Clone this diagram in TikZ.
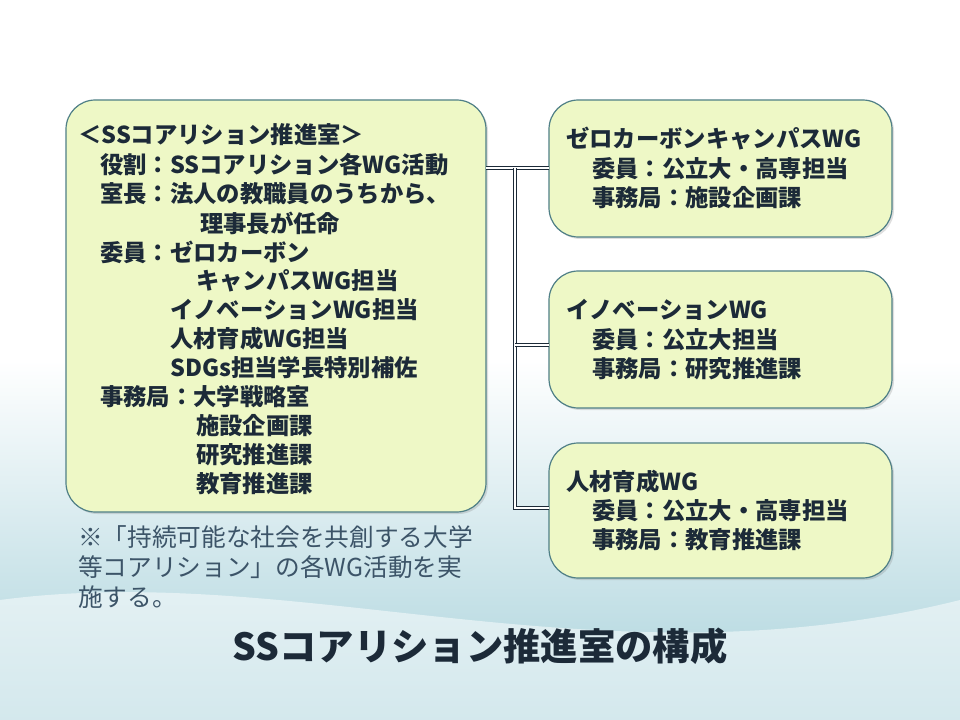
\documentclass[tikz,border=0pt]{standalone}
\usepackage{fontspec}
\setmainfont{Noto Sans CJK JP}
\usetikzlibrary{shadows}
\definecolor{boxfill}{HTML}{EEF8C6}
\definecolor{boxline}{HTML}{4F7F86}
\definecolor{txt}{HTML}{1C2A38}
\definecolor{note}{HTML}{3C5468}
\definecolor{bgbot}{HTML}{A9D2DB}
\tikzset{
  card/.style={draw=boxline,line width=0.9pt,fill=boxfill,rounded corners=22pt,drop shadow={shadow xshift=1.5pt,shadow yshift=-1.5pt,opacity=0.25}},
  t/.style={anchor=west,inner sep=0pt,text=txt,font=\fontsize{17.5}{20}\selectfont\bfseries},
  nt/.style={anchor=west,inner sep=0pt,text=note,font=\fontsize{18.5}{20}\selectfont},
  wire/.style={draw=txt,double=white,double distance=1.6pt,line width=0.6pt}
}
\begin{document}
\begin{tikzpicture}[x=0.75pt,y=-0.75pt]
\useasboundingbox (0,0) rectangle (960,720);
\shade[top color=white,bottom color=bgbot,middle color=white] (0,0) rectangle (960,720);
\fill[white,opacity=0.5] (0,600) .. controls (300,560) and (600,690) .. (960,600) -- (960,720) -- (0,720) -- cycle;
% boxes
\draw[card] (66,100) rectangle (486,512);
\draw[card] (549,100) rectangle (892,237);
\draw[card] (549,271) rectangle (892,408);
\draw[card] (549,443) rectangle (892,578);
\coordinate (L) at (486,168);
\coordinate (J) at (515,168);
\coordinate (R1) at (549,168);
\coordinate (J2) at (515,345);
\coordinate (R2) at (549,345);
\coordinate (J3) at (515,508);
\coordinate (R3) at (549,508);
\draw[wire] (L) -- (R1);
\draw[wire] (J) -- (J3) -- (R3);
\draw[wire] (J2) -- (R2);
% left text
\node[t] (a1) at (78,135) {＜SSコアリション推進室＞};
\node[t] (a2) at (100,165) {役割：SSコアリション各WG活動};
\node[t] (a3) at (100,194) {室長：法人の教職員のうちから、};
\node[t] (a4) at (200,223) {理事長が任命};
\node[t] (a5) at (100,252) {委員：ゼロカーボン};
\node[t] (a6) at (196,281) {キャンパスWG担当};
\node[t] (a7) at (170,310) {イノベーションWG担当};
\node[t] (a8) at (170,339) {人材育成WG担当};
\node[t] (a9) at (170,368) {SDGs担当学長特別補佐};
\node[t] (a10) at (100,397) {事務局：大学戦略室};
\node[t] (a11) at (196,426) {施設企画課};
\node[t] (a12) at (196,455) {研究推進課};
\node[t] (a13) at (196,484) {教育推進課};
% right text
\node[t] (b1) at (566,139) {ゼロカーボンキャンパスWG};
\node[t] (b2) at (592,169) {委員：公立大・高専担当};
\node[t] (b3) at (592,198) {事務局：施設企画課};
\node[t] (c1) at (566,310) {イノベーションWG};
\node[t] (c2) at (592,340) {委員：公立大担当};
\node[t] (c3) at (592,369) {事務局：研究推進課};
\node[t] (d1) at (566,482) {人材育成WG};
\node[t] (d2) at (592,511) {委員：公立大・高専担当};
\node[t] (d3) at (592,540) {事務局：教育推進課};
% note
\node[nt] (n1) at (78,537) {※「持続可能な社会を共創する大学};
\node[nt] (n2) at (78,567) {等コアリション」の各WG活動を実};
\node[nt] (n3) at (78,597) {施する。};
\node[inner sep=0pt,text=txt,font=\fontsize{28}{32}\selectfont\bfseries] (title) at (480,646) {SSコアリション推進室の構成};
\end{tikzpicture}
\end{document}
